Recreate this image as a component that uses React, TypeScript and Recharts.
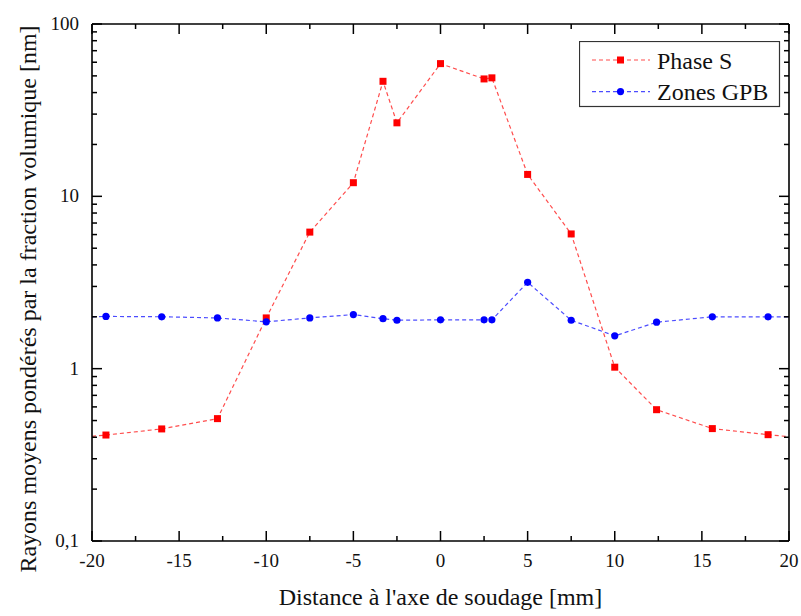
import React from 'react';
import { LineChart, Line, XAxis, YAxis, Label } from 'recharts';

// Distance to weld axis [mm]
const xValues = [-20, -19.2, -16, -12.8, -10, -7.5, -5, -3.3, -2.5, 0, 2.5, 2.95, 5, 7.5, 10, 12.4, 15.6, 18.8, 20];
// Phase S weighted mean radius [nm]
const phaseS = [0.405, 0.412, 0.447, 0.513, 1.97, 6.2, 12.0, 46.5, 26.7, 58.9, 48.0, 48.7, 13.4, 6.05, 1.02, 0.578, 0.449, 0.414, 0.403];
// Zones GPB weighted mean radius [nm]
const zonesGPB = [2.0, 2.01, 2.0, 1.97, 1.87, 1.97, 2.06, 1.95, 1.91, 1.92, 1.92, 1.92, 3.17, 1.91, 1.55, 1.86, 2.0, 2.0, 2.0];
// marks hidden at the plot edges (line only)
const edgeOnly = [true, false, false, false, false, false, false, false, false, false, false, false, false, false, false, false, false, false, true];

const xTicks = [-20, -17.5, -15, -12.5, -10, -7.5, -5, -2.5, 0, 2.5, 5, 7.5, 10, 12.5, 15, 17.5, 20];
const xMajor = [-20, -15, -10, -5, 0, 5, 10, 15, 20];
const yTicks = [0.1, 0.2, 0.3, 0.4, 0.5, 0.6, 0.7, 0.8, 0.9, 1, 2, 3, 4, 5, 6, 7, 8, 9, 10, 20, 30, 40, 50, 60, 70, 80, 90, 100];
const yMajor = [0.1, 1, 10, 100];
const yMajorLabels = ['0,1', '1', '10', '100'];

const xTitle = "Distance à l'axe de soudage [mm]";
const yTitle = 'Rayons moyens pondérés par la fraction volumique [nm]';
const seriesNames = ['Phase S', 'Zones GPB'];
const RED = '#ff0000';
const BLUE = '#0000ff';

const data = xValues.map((x, i) => ({ x, s: phaseS[i], g: zonesGPB[i], edge: edgeOnly[i] }));

const FONT = "'Liberation Serif'";
const txt = (size: number) => ({ fontFamily: FONT, fontSize: size, fill: '#111' });
const isMajorX = (v: number) => xMajor.some((m) => Math.abs(m - v) < 1e-9);
const majorYIndex = (v: number) => yMajor.findIndex((m) => Math.abs(m - v) < 1e-9);

const BottomTick = (p: any) => {
  const major = isMajorX(p.payload.value);
  return (
    <g>
      <line x1={p.x} y1={p.y} x2={p.x} y2={p.y - (major ? 10 : 5)} stroke="#000" strokeWidth={1.5} />
      {major && (
        <text x={p.x} y={p.y + 26} textAnchor="middle" style={txt(19)}>
          {String(p.payload.value)}
        </text>
      )}
    </g>
  );
};

const TopTick = (p: any) => {
  const major = isMajorX(p.payload.value);
  return <line x1={p.x} y1={p.y} x2={p.x} y2={p.y + (major ? 10 : 5)} stroke="#000" strokeWidth={1.5} />;
};

const LeftTick = (p: any) => {
  const idx = majorYIndex(p.payload.value);
  const major = idx >= 0;
  return (
    <g>
      <line x1={p.x} y1={p.y} x2={p.x + (major ? 10 : 5)} y2={p.y} stroke="#000" strokeWidth={1.5} />
      {major && (
        <text x={p.x - 13} y={p.y + 6} textAnchor="end" style={txt(19)}>
          {yMajorLabels[idx]}
        </text>
      )}
    </g>
  );
};

const RightTick = (p: any) => {
  const major = majorYIndex(p.payload.value) >= 0;
  return <line x1={p.x} y1={p.y} x2={p.x - (major ? 10 : 5)} y2={p.y} stroke="#000" strokeWidth={1.5} />;
};

const SquareDot = (p: any) => {
  if (p.payload.edge) return <g key={p.key} />;
  return <rect key={p.key} x={p.cx - 3.5} y={p.cy - 3.5} width={7} height={7} fill={RED} />;
};

const CircleDot = (p: any) => {
  if (p.payload.edge) return <g key={p.key} />;
  return <circle key={p.key} cx={p.cx} cy={p.cy} r={3.6} fill={BLUE} />;
};

const LegendBox = () => (
  <svg width={202} height={67} style={{ position: 'absolute', left: 579, top: 41, display: 'block' }}>
    <rect x={0.5} y={0.5} width={200} height={65} fill="#fff" stroke="#333" strokeWidth={1.2} />
    <line x1={13} y1={19} x2={71} y2={19} stroke={RED} strokeOpacity={0.7} strokeWidth={1.2} strokeDasharray="4 3" />
    <rect x={38} y={15.5} width={7} height={7} fill={RED} />
    <text x={78} y={27.6} style={txt(24)}>{seriesNames[0]}</text>
    <line x1={13} y1={50.6} x2={71} y2={50.6} stroke={BLUE} strokeOpacity={0.7} strokeWidth={1.2} strokeDasharray="4 3" />
    <circle cx={41.5} cy={50.6} r={3.6} fill={BLUE} />
    <text x={78} y={58.5} style={txt(24)}>{seriesNames[1]}</text>
  </svg>
);

export default function App() {
  return (
    <div style={{ position: 'absolute', left: 0, top: 0, width: 801, height: 616, background: '#fff' }}>
      <LineChart width={801} height={616} data={data} margin={{ top: 23, right: 10, bottom: 15, left: 12 }}>
        <XAxis
          dataKey="x"
          type="number"
          domain={[-20, 20]}
          allowDataOverflow
          ticks={xTicks}
          interval={0}
          height={60}
          tickSize={0}
          tickMargin={0}
          tickLine={false}
          axisLine={{ stroke: '#000', strokeWidth: 1.6 }}
          tick={(p: any) => <BottomTick {...p} />}
        >
          <Label
            content={(lp: any) => {
              const vb = lp.viewBox;
              return (
                <g>
                  <text x={vb.x + vb.width / 2} y={vb.y + 64} textAnchor="middle" style={txt(24)}>
                    {xTitle}
                  </text>
                </g>
              );
            }}
          />
        </XAxis>
        <XAxis
          xAxisId="top"
          orientation="top"
          dataKey="x"
          type="number"
          domain={[-20, 20]}
          allowDataOverflow
          ticks={xTicks}
          interval={0}
          height={1}
          tickSize={0}
          tickMargin={0}
          tickLine={false}
          axisLine={{ stroke: '#000', strokeWidth: 1.6 }}
          tick={(p: any) => <TopTick {...p} />}
        />
        <YAxis
          type="number"
          scale="log"
          domain={[0.1, 100]}
          allowDataOverflow
          ticks={yTicks}
          interval={0}
          width={80}
          tickSize={0}
          tickMargin={0}
          tickLine={false}
          axisLine={{ stroke: '#000', strokeWidth: 1.6 }}
          tick={(p: any) => <LeftTick {...p} />}
        >
          <Label
            content={(lp: any) => {
              const vb = lp.viewBox;
              const cx = vb.x + 24;
              const cy = vb.y + vb.height / 2 + 16.5;
              return (
                <g>
                  <text x={cx} y={cy} transform={`rotate(-90 ${cx} ${cy})`} textAnchor="middle" style={txt(24)}>
                    {yTitle}
                  </text>
                </g>
              );
            }}
          />
        </YAxis>
        <YAxis
          yAxisId="right"
          orientation="right"
          type="number"
          scale="log"
          domain={[0.1, 100]}
          allowDataOverflow
          ticks={yTicks}
          interval={0}
          width={2}
          tickSize={0}
          tickMargin={0}
          tickLine={false}
          axisLine={{ stroke: '#000', strokeWidth: 1.6 }}
          tick={(p: any) => <RightTick {...p} />}
        />
        <Line
          dataKey="s"
          name={seriesNames[0]}
          stroke={RED}
          strokeOpacity={0.7}
          strokeWidth={1.2}
          strokeDasharray="4 3"
          dot={(p: any) => <SquareDot {...p} />}
          activeDot={false}
          isAnimationActive={false}
        />
        <Line
          dataKey="g"
          name={seriesNames[1]}
          stroke={BLUE}
          strokeOpacity={0.7}
          strokeWidth={1.2}
          strokeDasharray="4 3"
          dot={(p: any) => <CircleDot {...p} />}
          activeDot={false}
          isAnimationActive={false}
        />
      </LineChart>
      <LegendBox />
    </div>
  );
}
